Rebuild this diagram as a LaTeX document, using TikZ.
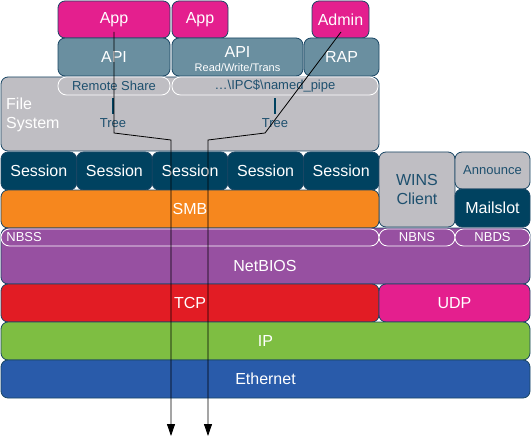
\documentclass[tikz,border=0pt]{standalone}
\usepackage{fontspec}
\setmainfont{Liberation Sans}
\usetikzlibrary{arrows.meta}
\definecolor{edgec}{RGB}{25,70,100}
\definecolor{inkc}{RGB}{30,80,110}
\definecolor{pinkc}{RGB}{228,31,142}
\definecolor{apic}{RGB}{106,143,160}
\definecolor{greyc}{RGB}{191,190,195}
\definecolor{sessc}{RGB}{0,66,96}
\definecolor{orangec}{RGB}{246,135,30}
\definecolor{purplec}{RGB}{151,80,161}
\definecolor{redc}{RGB}{226,28,36}
\definecolor{greenc}{RGB}{126,190,66}
\definecolor{bluec}{RGB}{41,91,170}
\begin{document}
\begin{tikzpicture}[x=1pt,y=-1pt]
\tikzstyle{layer} = [draw=edgec, line width=0.8pt, rounded corners=7pt, inner sep=0pt, text=white, align=center, font=\fontsize{16}{19}\selectfont]
\tikzstyle{pill} = [draw=white, line width=0.8pt, rounded corners=8.5pt, inner sep=0pt, text=white, font=\fontsize{13}{15}\selectfont]
\tikzstyle{lbl} = [inner sep=0pt, text=white, font=\fontsize{16}{19}\selectfont]
\tikzstyle{small} = [inner sep=0pt, text=inkc, font=\fontsize{13}{15}\selectfont]
\tikzstyle{flow} = [draw=black, line width=0.8pt, -{Triangle[length=12pt,width=8pt]}]

\useasboundingbox (0,0) rectangle (531,436);

\node[layer, fill=pinkc, minimum width=112, minimum height=37] (app1) at (114,19.5) {App};
\node[layer, fill=pinkc, minimum width=56, minimum height=37] (app2) at (200,19.5) {App};
\node[layer, fill=pinkc, minimum width=57, minimum height=37] (admin) at (340.5,19.5) {Admin};

\node[layer, fill=apic, minimum width=112, minimum height=38] (api1) at (114,57) {API};
\node[layer, fill=apic, minimum width=131, minimum height=38] (api2) at (237.5,57) {};
\node[lbl] (api2a) at (237.5,52) {API};
\node[lbl, font=\fontsize{11}{13}\selectfont] (api2b) at (237.5,68) {Read/Write/Trans};
\node[layer, fill=apic, minimum width=75, minimum height=38] (rap) at (341.5,57) {RAP};

\node[layer, fill=greyc, minimum width=378, minimum height=74] (fs) at (190,114) {};
\node[pill, fill=greyc, text=inkc, minimum width=112, minimum height=18] (share) at (114,86) {Remote Share};
\node[pill, fill=greyc, text=inkc, minimum width=206, minimum height=18] (pipe) at (275,86) {…\textbackslash IPC\$\textbackslash named\_pipe};
\node[lbl, anchor=west, align=left] (fslbl) at (6,114.5) {File\\System};
\draw[sessc, line width=2.5pt] (113,98) -- (113,114);
\draw[sessc, line width=2.5pt] (275,98) -- (275,114);
\node[small] (tree1) at (113,123) {Tree};
\node[small] (tree2) at (275,123) {Tree};

\foreach \i in {0,...,4}
  \node[layer, fill=sessc, minimum width=75.6, minimum height=38] (sess\i) at ({38.8+75.6*\i},171) {Session};
\node[layer, fill=greyc, text=inkc, minimum width=76, minimum height=75] (wins) at (417,189.5) {WINS\\Client};
\node[layer, fill=greyc, text=inkc, font=\fontsize{13}{15}\selectfont, minimum width=75, minimum height=37] (announce) at (492.5,170.5) {Announce};
\node[layer, fill=sessc, minimum width=75, minimum height=38] (mailslot) at (492.5,208) {Mailslot};
\node[layer, fill=orangec, minimum width=378, minimum height=38] (smb) at (190,209) {SMB};

\node[layer, fill=purplec, minimum width=529, minimum height=56] (netbios) at (265.5,256) {};
\node[pill, fill=purplec, minimum width=378, minimum height=17] (nbss) at (190,237.5) {};
\node[pill, anchor=west, draw=none, fill=none] (nbsslbl) at (6,237.5) {NBSS};
\node[pill, fill=purplec, minimum width=76, minimum height=17] (nbns) at (417,237.5) {NBNS};
\node[pill, fill=purplec, minimum width=75, minimum height=17] (nbds) at (492.5,237.5) {NBDS};
\node[lbl] (netbioslbl) at (265,266) {NetBIOS};

\node[layer, fill=redc, minimum width=378, minimum height=38] (tcp) at (190,303) {TCP};
\node[layer, fill=pinkc, minimum width=151, minimum height=38] (udp) at (454.5,303) {UDP};
\node[layer, fill=greenc, minimum width=529, minimum height=38] (ip) at (265.5,341) {IP};
\node[layer, fill=bluec, minimum width=529, minimum height=38] (eth) at (265.5,379) {Ethernet};

\coordinate (a1) at (114,32);
\coordinate (b1) at (114,133);
\coordinate (c1) at (171,140);
\coordinate (d1) at (171,436);
\coordinate (a2) at (341,32);
\coordinate (b2) at (265,133);
\coordinate (c2) at (208,140);
\coordinate (d2) at (208,436);
\draw[flow] (a1) -- (b1) -- (c1) -- (d1);
\draw[flow] (a2) -- (b2) -- (c2) -- (d2);
\end{tikzpicture}
\end{document}
